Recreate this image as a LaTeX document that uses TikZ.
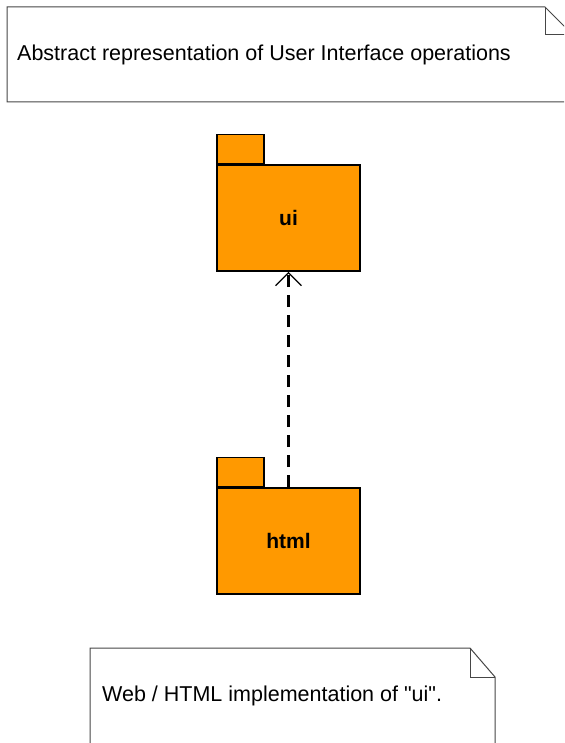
\documentclass[tikz,border=0pt]{standalone}
\usepackage{fontspec}
\setmainfont{Liberation Sans}
\usetikzlibrary{arrows.meta,positioning}
\definecolor{pkgorange}{RGB}{255,153,0}
\definecolor{notegray}{RGB}{70,70,70}

\begin{document}
\begin{tikzpicture}[x=1pt,y=-1pt,
  pkg/.style={draw,fill=pkgorange,line width=1.6pt,minimum width=143pt,minimum height=106pt,inner sep=0pt,font=\fontsize{21}{25}\selectfont\bfseries},
  pkgtab/.style={draw,fill=pkgorange,line width=1.6pt,minimum width=47pt,minimum height=29pt,inner sep=0pt,anchor=south west},
  notetext/.style={anchor=base west,inner sep=0pt,font=\fontsize{21.5}{25}\selectfont},
  noteline/.style={draw=notegray,line width=1pt},
  dep/.style={dash pattern=on 12pt off 8pt,line width=2.6pt,-{Straight Barb[length=13pt,width=26pt,line width=1.3pt]}}]
  \useasboundingbox (0,0) rectangle (564,743);
  \clip (0,0) rectangle (564,743);
  % upper note
  \draw[noteline,fill=white] (7,7) -- (545,7) -- (573,35) -- (573,102) -- (7,102) -- cycle;
  \draw[noteline] (545,7) -- (545,35) -- (573,35);
  \node[notetext] (abstractNote) at (17,61) {Abstract representation of User Interface operations};
  % packages
  \node[pkg] (ui) at (288.5,218) {ui};
  \node[pkgtab] (uiTab) at (ui.north west) {};
  \node[pkg] (html) at (288.5,541) {html};
  \node[pkgtab] (htmlTab) at (html.north west) {};
  \draw[dep] (html.north) -- (ui.south);
  % lower note
  \draw[noteline,fill=white] (90,648) -- (470,648) -- (495,677) -- (495,760) -- (90,760) -- cycle;
  \draw[noteline] (470,648) -- (470,677) -- (495,677);
  \node[notetext] (webNote) at (102,701.5) {Web / HTML implementation of \textquotedbl ui\textquotedbl.};
\end{tikzpicture}
\end{document}
